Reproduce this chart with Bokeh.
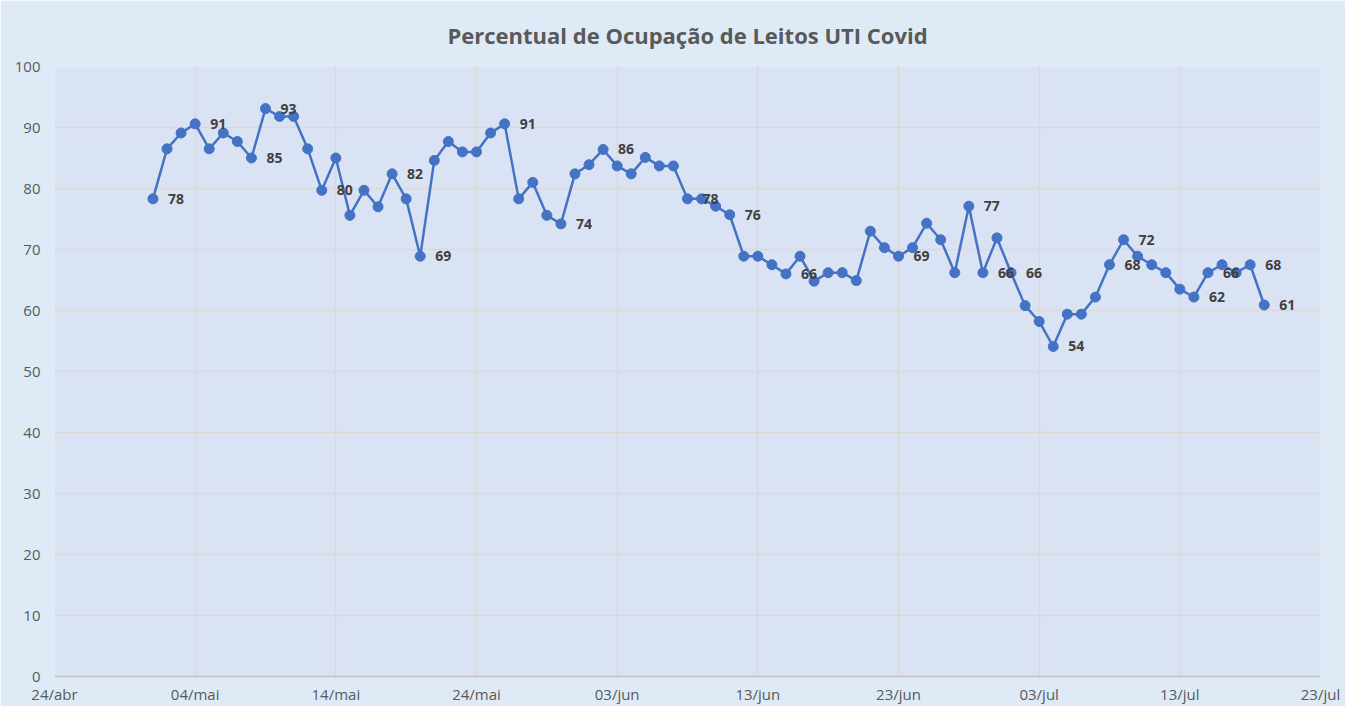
from datetime import datetime, timedelta
from bokeh.plotting import figure
from bokeh.models import ColumnDataSource, FixedTicker, Range1d, LabelSet
from bokeh.embed import file_html
from bokeh.resources import INLINE
from bokeh.core.properties import value

# ---- data ----
first_day = datetime(2020, 5, 1)
ocupacao = [
    78.3, 86.5, 89.1, 90.6, 86.5, 89.1, 87.7, 85.0, 93.1, 91.8,
    91.8, 86.5, 79.7, 85.0, 75.6, 79.7, 77.0, 82.4, 78.3, 68.9,
    84.6, 87.7, 86.0, 86.0, 89.1, 90.6, 78.3, 81.0, 75.6, 74.2,
    82.4,
    83.9, 86.4, 83.7, 82.4, 85.1, 83.7, 83.7, 78.3, 78.3, 77.1,
    75.7, 68.9, 68.9, 67.5, 66.0, 68.9, 64.8, 66.2, 66.2, 64.9,
    73.0, 70.3, 68.9, 70.3, 74.3, 71.6, 66.2, 77.1, 66.2, 71.9,
    66.2, 60.8, 58.2, 54.1, 59.4, 59.4, 62.2, 67.5, 71.6, 68.9,
    67.5, 66.2, 63.5, 62.2, 66.2, 67.5, 66.2, 67.5, 60.9,
]
labeled_days = [
    "2020-05-01", "2020-05-04", "2020-05-08", "2020-05-09", "2020-05-13",
    "2020-05-18", "2020-05-20", "2020-05-26", "2020-05-30", "2020-06-02",
    "2020-06-08", "2020-06-11", "2020-06-15", "2020-06-23", "2020-06-28",
    "2020-06-29", "2020-07-01", "2020-07-04", "2020-07-08", "2020-07-09",
    "2020-07-14", "2020-07-15", "2020-07-18", "2020-07-19",
]
tick_days = ["2020-04-24", "2020-05-04", "2020-05-14", "2020-05-24", "2020-06-03",
             "2020-06-13", "2020-06-23", "2020-07-03", "2020-07-13", "2020-07-23"]
tick_labels = ["24/abr", "04/mai", "14/mai", "24/mai", "03/jun",
               "13/jun", "23/jun", "03/jul", "13/jul", "23/jul"]
y_ticks = [0, 10, 20, 30, 40, 50, 60, 70, 80, 90, 100]

EPOCH = datetime(1970, 1, 1)
def ms(d):
    return (d - EPOCH).total_seconds() * 1000.0

dates = [first_day + timedelta(days=i) for i in range(len(ocupacao))]
tick_ms = [ms(datetime.fromisoformat(t)) for t in tick_days]

src = ColumnDataSource(dict(x=dates, y=ocupacao))
lab_dates = [datetime.fromisoformat(d) for d in labeled_days]
lab_vals = [ocupacao[(d - first_day).days] for d in lab_dates]
lab_src = ColumnDataSource(dict(x=lab_dates, y=lab_vals,
                                t=[str(int(round(v))) for v in lab_vals]))

FONT = "Open Sans"

p = figure(width=1345, height=706, x_axis_type="datetime",
           x_range=Range1d(tick_ms[0], tick_ms[-1]), y_range=Range1d(0, 100),
           output_backend="svg", toolbar_location=None,
           min_border_left=54, min_border_right=25, min_border_top=66,
           min_border_bottom=29)

p.title.text = "Percentual de Ocupação de Leitos UTI Covid"
p.title.align = "center"
p.title.text_font = FONT
p.title.text_font_size = "22px"
p.title.text_font_style = "bold"
p.title.text_color = "#595959"
p.title.standoff = 33

p.background_fill_color = "#DAE3F3"
p.border_fill_color = "#DEEBF7"
p.outline_line_color = None

p.line("x", "y", source=src, line_color="#4472C4", line_width=2.5)
p.scatter("x", "y", source=src, size=10, fill_color="#4472C4", line_color="#4472C4")

labels = LabelSet(x="x", y="y", text="t", source=lab_src, x_offset=15, y_offset=0,
                  text_baseline="middle", text_align="left",
                  text_font=value(FONT), text_font_size="14px",
                  text_font_style="bold", text_color="#404040")
p.add_layout(labels)

xa = p.xaxis[0]
xa.ticker = FixedTicker(ticks=tick_ms)
xa.major_label_overrides = {t: l for t, l in zip(tick_ms, tick_labels)}
xa.axis_line_color = "#BFBFBF"
xa.axis_line_width = 1.5
xa.major_tick_out = 0
xa.major_tick_in = 0
xa.minor_tick_line_color = None
xa.major_label_standoff = 7
xa.major_label_text_font = FONT
xa.major_label_text_font_size = "15px"
xa.major_label_text_color = "#595959"

ya = p.yaxis[0]
ya.ticker = FixedTicker(ticks=y_ticks)
ya.axis_line_color = None
ya.major_tick_out = 0
ya.major_tick_in = 0
ya.minor_tick_line_color = None
ya.major_label_standoff = 14
ya.major_label_text_font = FONT
ya.major_label_text_font_size = "15px"
ya.major_label_text_color = "#595959"

p.xgrid.grid_line_color = "#DCD8D6"
p.ygrid.grid_line_color = "#DCD8D6"
p.xgrid.grid_line_width = 1.5
p.ygrid.grid_line_width = 1.5

open("out.html", "w").write(file_html(p, INLINE))
